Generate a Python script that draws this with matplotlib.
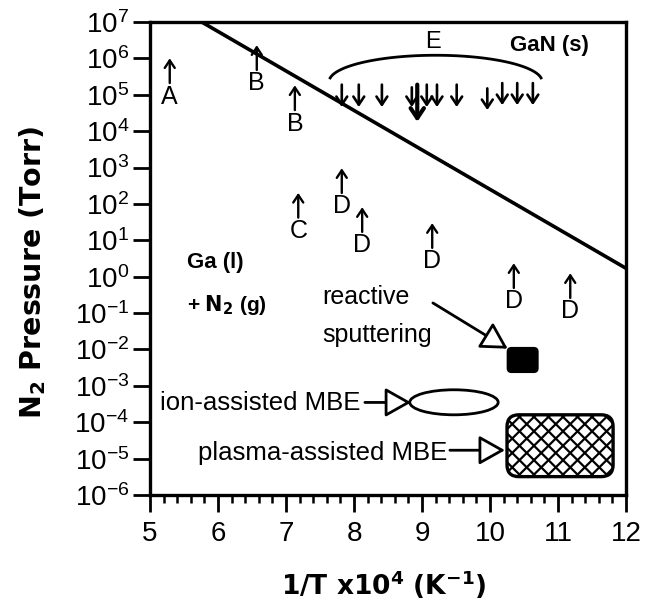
import numpy as np
import matplotlib.pyplot as plt
from matplotlib.patches import Ellipse, FancyBboxPatch
from matplotlib.ticker import FixedLocator, MultipleLocator

plt.rcParams['font.family'] = 'Liberation Sans'
plt.rcParams['mathtext.fontset'] = 'custom'
plt.rcParams['mathtext.rm'] = 'Liberation Sans'
plt.rcParams['mathtext.bf'] = 'DejaVu Sans:bold'
plt.rcParams['mathtext.default'] = 'regular'

# GaN(s) / Ga(l) + N2(g) boundary
boundary_invT = [5.76, 12.0]
boundary_p = [1e7, 1.7]

# lower bounds (up arrows) A-D
up_invT = [5.29, 6.57, 7.13, 7.18, 7.82, 8.12, 9.15, 10.35, 11.18]
up_p = [2.1e5, 4.8e5, 3.8e4, 42, 200, 17, 6.2, 0.49, 0.26]
up_labels = ['A', 'B', 'B', 'C', 'D', 'D', 'D', 'D', 'D']

# upper bounds E (down arrows)
e_invT = [7.82, 8.07, 8.41, 8.85, 8.93, 9.07, 9.22, 9.51, 9.96, 10.18, 10.40, 10.63]
e_p_top = [1.9e5, 1.9e5, 1.9e5, 1.6e5, 1.9e5, 1.9e5, 1.9e5, 1.9e5, 1.5e5, 2.1e5, 2.1e5, 2.1e5]
e_p_low = [4.6e4, 4.6e4, 4.6e4, 4.6e4, 1.8e4, 4.6e4, 4.6e4, 4.6e4, 3.8e4, 5.2e4, 5.2e4, 5.2e4]

# growth regions
sputter_invT = (10.26, 10.70)
sputter_p = (2.4e-3, 1.1e-2)
ion_invT = (8.82, 10.12)
ion_p = (1.6e-4, 7.8e-4)
plasma_invT = (10.25, 11.81)
plasma_p = (3.2e-6, 1.6e-4)

fig = plt.figure(figsize=(6.5, 6.03), dpi=100)
ax = fig.add_axes([0.2308, 0.1791, 0.7323, 0.7844])

ax.set_yscale('log')
ax.set_xlim(5, 12)
ax.set_ylim(1e-6, 1e7)

ax.plot(boundary_invT, boundary_p, color='black', lw=2.6, solid_capstyle='butt')

for x, p, lab in zip(up_invT, up_p, up_labels):
    ax.annotate('', xy=(x, p * 10**0.68), xytext=(x, p),
                arrowprops=dict(arrowstyle='->,head_length=0.45,head_width=0.3',
                                lw=1.7, color='black', shrinkA=0, shrinkB=0,
                                mutation_scale=12))
    ax.text(x, p / 10**0.04, lab, ha='center', va='top', fontsize=18)

for x, top, low in zip(e_invT, e_p_top, e_p_low):
    big = low < 2e4
    ax.annotate('', xy=(x, low), xytext=(x, top),
                arrowprops=dict(arrowstyle='->,head_length=0.45,head_width=0.3',
                                lw=3.0 if big else 1.9, color='black',
                                shrinkA=0, shrinkB=0,
                                mutation_scale=16 if big else 13))

# bracket over E
t = np.radians(np.linspace(8, 172, 120))
ax.plot(0.600 + 0.2237 * np.cos(t), 0.874 + 0.0557 * np.sin(t),
        transform=ax.transAxes, color='black', lw=2)
ax.text(9.16, 2.8e6, 'E', ha='center', va='center', fontsize=17)
ax.text(10.29, 2.3e6, 'GaN (s)', ha='left', va='center', fontsize=16,
        fontweight='bold')

ax.text(5.54, 2.4, 'Ga (l)', ha='left', va='center', fontsize=16, fontweight='bold')
ax.text(5.54, 0.17, r'+ $\mathbf{N_2}$ (g)', ha='left', va='center', fontsize=15,
        fontweight='bold')


def to_axes(x, p):
    return ax.transAxes.inverted().transform(ax.transData.transform((x, p)))


open_head = dict(arrowstyle='-|>,head_length=0.8,head_width=0.45', lw=2,
                 fc='white', ec='black', shrinkA=0, shrinkB=0, mutation_scale=20)

# reactive sputtering
ax.text(7.54, 0.28, 'reactive', ha='left', va='center', fontsize=18)
ax.text(7.54, 0.025, 'sputtering', ha='left', va='center', fontsize=18)
ax.annotate('', xy=(10.26, 0.0105), xytext=(9.16, 0.19), arrowprops=open_head)
(x0, y0) = to_axes(sputter_invT[0], sputter_p[0])
(x1, y1) = to_axes(sputter_invT[1], sputter_p[1])
ax.add_patch(FancyBboxPatch((x0, y0), x1 - x0, y1 - y0,
                            boxstyle='round,pad=0,rounding_size=0.008',
                            transform=ax.transAxes, fc='black', ec='black', lw=1.5))

# ion-assisted MBE
ax.text(5.15, 3.4e-4, 'ion-assisted MBE', ha='left', va='center', fontsize=18.5)
ax.annotate('', xy=(8.84, 3.5e-4), xytext=(8.16, 3.5e-4), arrowprops=open_head)
(x0, y0) = to_axes(ion_invT[0], ion_p[0])
(x1, y1) = to_axes(ion_invT[1], ion_p[1])
ax.add_patch(Ellipse(((x0 + x1) / 2, (y0 + y1) / 2), x1 - x0, y1 - y0,
                     transform=ax.transAxes, fc='white', ec='black', lw=2))

# plasma-assisted MBE
ax.text(5.71, 1.45e-5, 'plasma-assisted MBE', ha='left', va='center', fontsize=18.5)
ax.annotate('', xy=(10.22, 1.7e-5), xytext=(9.41, 1.7e-5), arrowprops=open_head)
(x0, y0) = to_axes(plasma_invT[0], plasma_p[0])
(x1, y1) = to_axes(plasma_invT[1], plasma_p[1])
box = FancyBboxPatch((x0, y0), x1 - x0, y1 - y0,
                     boxstyle='round,pad=0,rounding_size=0.025',
                     transform=ax.transAxes, fc='white', ec='none')
ax.add_patch(box)
# cross hatching, ~14.5 px apart
h = y1 - y0
step = 0.0305
for a in np.arange(x0 - h, x1 + step, step):
    for ys in ([y0, y1], [y1, y0]):
        ln, = ax.plot([a, a + h], ys, transform=ax.transAxes, color='black', lw=1.6)
        ln.set_clip_path(box)
ax.add_patch(FancyBboxPatch((x0, y0), x1 - x0, y1 - y0,
                            boxstyle='round,pad=0,rounding_size=0.025',
                            transform=ax.transAxes, fc='none', ec='black', lw=2.4,
                            zorder=5))

# axes styling
yt = [10.0**k for k in range(-6, 8)]
ax.yaxis.set_major_locator(FixedLocator(yt))
ax.yaxis.set_minor_locator(FixedLocator([]))
ax.set_yticklabels([r'$10^{%d}$' % k for k in range(-6, 8)])
ax.xaxis.set_major_locator(MultipleLocator(1))
ax.xaxis.set_minor_locator(MultipleLocator(0.2))

ax.tick_params(axis='both', which='major', direction='out', length=12, width=2,
               labelsize=20, color='black', pad=3)
ax.tick_params(axis='x', which='major', pad=7)
ax.tick_params(axis='x', which='minor', direction='out', length=6, width=1.8)
for s in ax.spines.values():
    s.set_linewidth(2.4)

ax.set_ylabel(r'$\mathbf{N_2}$ Pressure (Torr)', fontsize=20.5, fontweight='bold',
              family='DejaVu Sans')
ax.set_xlabel(r'1/T x$\mathbf{10^4}$ (K$^{\mathbf{-1}}$)', fontsize=19,
              fontweight='bold', family='DejaVu Sans')
ax.yaxis.label.set_va('center')
ax.xaxis.label.set_va('center')
ax.yaxis.set_label_coords(-0.246, 0.47)
ax.xaxis.set_label_coords(0.49, -0.19)

fig.savefig('out.png', dpi=100)
